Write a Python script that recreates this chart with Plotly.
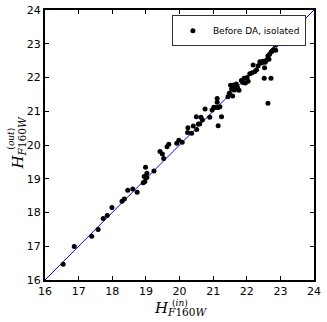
import plotly.graph_objects as go

# magnitudes
H_IN = [16.54, 16.87, 17.39, 17.58, 17.73, 17.85, 17.99, 18.29, 18.36, 18.46,
        18.61, 18.74, 18.92, 18.97, 18.95, 18.99, 19.03, 19.03, 19.24, 19.42,
        19.49, 19.53, 19.63, 19.68, 19.92, 19.98, 20.08, 20.24, 20.25, 20.36,
        20.41, 20.50, 20.51, 20.56, 20.60, 20.64, 20.68, 20.76, 20.90, 20.97,
        21.02, 21.08, 21.12, 21.12, 21.15, 21.15, 21.20, 21.25, 21.44, 21.48,
        21.52, 21.55, 21.58, 21.60, 21.62, 21.64, 21.69, 21.72, 21.77, 21.84,
        21.89, 21.92, 21.96, 22.01, 22.04, 22.09, 22.16, 22.19, 22.24, 22.29,
        22.34, 22.39, 22.44, 22.48, 22.52, 22.53, 22.55, 22.59, 22.63, 22.63,
        22.66, 22.68, 22.72, 22.73, 22.76, 22.80, 22.84, 22.86]
H_OUT = [16.47, 16.99, 17.30, 17.50, 17.82, 17.91, 18.15, 18.33, 18.40, 18.66,
         18.70, 18.60, 18.88, 18.92, 19.07, 19.34, 19.16, 19.04, 19.23, 19.81,
         19.73, 19.60, 19.95, 20.02, 20.05, 20.14, 20.08, 20.37, 20.51, 20.35,
         20.56, 20.84, 20.46, 20.62, 20.62, 20.82, 20.74, 21.07, 20.82, 21.04,
         21.12, 21.11, 21.38, 21.27, 21.11, 20.57, 21.13, 20.84, 21.43, 21.53,
         21.77, 21.65, 21.45, 21.71, 21.78, 21.63, 21.81, 21.71, 21.62, 21.91,
         21.85, 21.98, 21.84, 22.00, 21.89, 22.11, 22.14, 22.37, 22.18, 22.23,
         22.35, 22.47, 22.43, 22.48, 21.98, 22.29, 22.45, 22.52, 21.24, 22.64,
         22.54, 22.69, 21.98, 22.76, 22.79, 22.83, 22.97, 22.81]

ONE_TO_ONE = [16, 24]
TICKS = [16, 17, 18, 19, 20, 21, 22, 23, 24]
TICK_TEXT = [str(t) for t in TICKS]

fig = go.Figure()

fig.add_trace(go.Scatter(x=ONE_TO_ONE, y=ONE_TO_ONE, mode='lines',
                         line=dict(color='#0000ff', width=1), showlegend=False))
fig.add_trace(go.Scatter(x=H_IN, y=H_OUT, mode='markers', name='Before DA, isolated',
                         marker=dict(color='black', size=5)))

axis_style = dict(range=[16, 24], tickmode='array', tickvals=TICKS, ticktext=TICK_TEXT,
                  ticks='inside', ticklen=4, tickcolor='black',
                  showline=True, linecolor='black', linewidth=2,
                  mirror='allticks', showgrid=False, zeroline=False, automargin=False,
                  tickfont=dict(family='DejaVu Sans', size=11, color='black'))

fig.update_xaxes(**axis_style)
fig.update_yaxes(**axis_style)

# axis labels: H with subscript, superscript placed above the subscript
big = dict(family='DejaVu Serif', size=15, color='black')
small = dict(family='DejaVu Serif', size=9, color='black')

def label(x, y, text, font, angle=0):
    fig.add_annotation(text=text, xref='paper', yref='paper', x=x, y=y,
                       xanchor='center', yanchor='middle', textangle=angle,
                       showarrow=False, font=font)

label(0.502, -0.106, '<i>H</i><sub><i>F</i>160<i>W</i></sub>', big)
label(0.502, -0.085, '(<i>in</i>)', small)

label(-0.100, 0.506, '<i>H</i><sub><i>F</i>160<i>W</i></sub>', big, -90)
label(-0.128, 0.522, '(<i>out</i>)', small, -90)

fig.update_layout(
    width=327, height=322,
    margin=dict(l=45, r=13, t=10, b=42),
    plot_bgcolor='white', paper_bgcolor='white',
    legend=dict(x=0.97, y=0.981, xanchor='right', yanchor='top',
                bordercolor='#333333', borderwidth=1, bgcolor='white',
                font=dict(family='DejaVu Sans', size=9, color='black'),
                itemwidth=30, tracegroupgap=0),
)

# page body has a default 8px margin; drop it so the figure fills the window
fig.write_html("out.html", config={'displayModeBar': False},
               post_script="document.body.style.margin='0';")
